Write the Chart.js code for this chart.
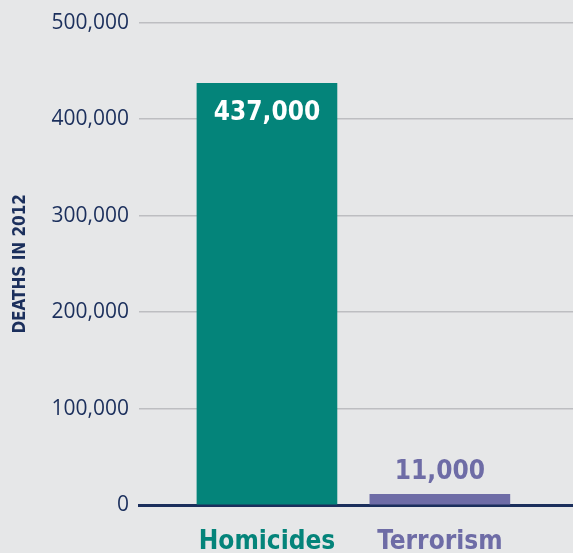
<!DOCTYPE html>
<html>
<head>
<meta charset="utf-8">
<script src="https://cdn.jsdelivr.net/npm/chart.js@4/dist/chart.umd.min.js"></script>
<style>
  html, body { margin: 0; padding: 0; background: #e6e7e8; }
  #wrap { width: 573px; height: 553px; }
</style>
</head>
<body>
<div id="wrap"><canvas id="grafico"></canvas></div>
<script>
// datos
const categorias = ['Homicides', 'Terrorism'];
const muertes = [437000, 11000];
const coloresBarras = ['#04847a', '#6e6ca6'];
const ticksY = [0, 100000, 200000, 300000, 400000, 500000];
const tituloY = 'DEATHS IN 2012';

const azul = '#1b2f5c';
const fuenteCond = "'Liberation Sans Narrow', 'DejaVu Sans Condensed', 'Roboto', sans-serif";

// etiquetas de valor sobre / dentro de las barras
const etiquetasBarras = {
    id: 'etiquetasBarras',
    afterDatasetsDraw(chart) {
        const ctx = chart.ctx;
        const meta = chart.getDatasetMeta(0);
        ctx.save();
        ctx.font = "bold 26px " + fuenteCond;
        ctx.textAlign = 'center';
        ctx.textBaseline = 'middle';
        meta.data.forEach((bar, i) => {
            const alto = bar.base - bar.y;
            const texto = muertes[i].toLocaleString('en-US');
            if (alto > 60) {
                ctx.fillStyle = '#ffffff';
                ctx.fillText(texto, bar.x, bar.y + 30);
            } else {
                ctx.fillStyle = coloresBarras[i];
                ctx.fillText(texto, bar.x, bar.y - 22);
            }
        });
        ctx.restore();
    }
};

const ctx = document.getElementById('grafico').getContext('2d');
new Chart(ctx, {
    type: 'bar',
    data: {
        datasets: [{
            data: muertes.map((v, i) => ({ x: i + 1, y: v })),
            backgroundColor: coloresBarras,
            barThickness: 140
        }]
    },
    options: {
        responsive: true,
        maintainAspectRatio: false,
        animation: false,
        layout: { padding: { top: 20, right: 0, left: 0, bottom: 0 } },
        plugins: {
            legend: { display: false },
            tooltip: { enabled: false }
        },
        scales: {
            x: {
                type: 'linear',
                offset: false,
                min: 0.26,
                max: 2.77,
                afterBuildTicks: (scale) => {
                    scale.ticks = categorias.map((c, i) => ({ value: i + 1 }));
                },
                afterFit: (scale) => { scale.height = 48; },
                grid: { display: false, drawTicks: false, offset: false },
                border: { display: true, color: azul, width: 3 },
                ticks: {
                    autoSkip: false,
                    maxRotation: 0,
                    padding: 22,
                    color: (c) => coloresBarras[c.index],
                    font: { family: fuenteCond, size: 26, weight: 'bold' },
                    callback: (v) => categorias[v - 1]
                }
            },
            y: {
                min: 0,
                max: 500000,
                afterBuildTicks: (scale) => {
                    scale.ticks = ticksY.map(v => ({ value: v }));
                },
                afterFit: (scale) => { scale.width = 139; },
                grid: { color: '#bdbec1', lineWidth: 1.5, drawTicks: false },
                border: { display: false },
                ticks: {
                    padding: 10,
                    color: azul,
                    font: { family: "'Open Sans', sans-serif", size: 21 },
                    callback: (v) => v.toLocaleString('en-US')
                },
                title: {
                    display: true,
                    text: tituloY,
                    color: azul,
                    padding: { top: 10, bottom: 0 },
                    font: { family: fuenteCond, size: 17, weight: 'bold' }
                }
            }
        }
    },
    plugins: [etiquetasBarras]
});
</script>
</body>
</html>
